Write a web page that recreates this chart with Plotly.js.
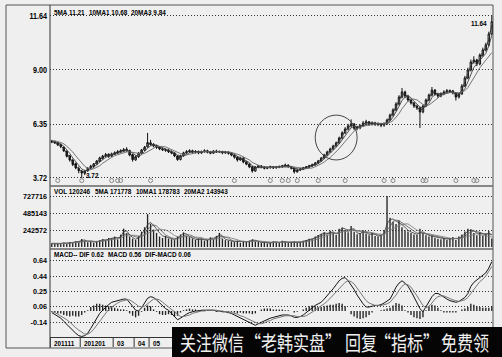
<!DOCTYPE html>
<html>
<head>
<meta charset="utf-8">
<script src="https://cdn.plot.ly/plotly-3.0.1.min.js"></script>
<style>
html, body { margin: 0; padding: 0; background: #efefef; }
#wrap { position: relative; width: 502px; height: 357px; overflow: hidden; }
#chart { width: 502px; height: 357px; }
#wm { position: absolute; left: 172px; top: 327px; width: 330px; height: 30px; background: #050505; }
#wm span { position: absolute; top: 7px; font-family: "Noto Sans CJK SC", sans-serif; font-size: 16px; line-height: 16px;
  color: #f0f0f0; white-space: nowrap; transform: scaleY(1.3); transform-origin: 50% 50%;
  font-feature-settings: "halt"; }
</style>
</head>
<body>
<div id="wrap"><div id="chart"></div><div id="wm"></div></div>
<script>
// ---- daily bars (one entry per bar) ----
const open = [5.52,5.50,5.44,5.35,5.22,5.02,4.80,4.58,4.42,4.18,
  4.05,3.95,4.08,4.22,4.28,4.40,4.54,4.68,4.80,4.88,
  4.78,4.88,4.94,5.00,5.04,5.12,5.06,4.86,4.60,4.76,
  4.94,5.08,5.24,5.44,5.36,5.28,5.22,5.14,5.10,5.08,
  5.00,4.94,4.80,4.62,4.80,4.95,5.00,5.05,4.98,5.01,
  4.94,5.00,5.05,4.98,4.93,5.04,4.99,5.01,4.94,4.99,
  4.93,4.84,4.74,4.60,4.70,4.50,4.40,4.27,4.06,4.26,
  4.31,4.25,4.20,4.22,4.27,4.21,4.26,4.27,4.31,4.35,
  4.27,4.20,4.02,4.11,4.16,4.22,4.26,4.31,4.36,4.45,
  4.55,4.69,4.84,4.99,5.13,5.28,5.43,5.67,5.92,6.11,
  6.26,6.36,6.15,6.17,6.27,6.40,6.46,6.34,6.41,6.34,
  6.36,6.30,6.36,6.55,6.79,7.04,7.33,7.67,7.92,7.72,
  7.53,7.38,7.23,7.14,6.94,7.23,7.53,7.77,8.01,7.82,
  7.72,7.82,7.92,7.97,7.97,7.87,7.67,7.82,8.21,8.60,
  8.99,9.38,9.48,9.28,9.72,9.97,10.21,10.75];
const high = [5.58,5.55,5.47,5.40,5.26,5.06,4.85,4.66,4.47,4.28,
  4.12,4.12,4.24,4.36,4.45,4.60,4.76,4.85,4.94,4.92,
  4.96,5.02,5.08,5.12,5.18,5.22,5.10,4.90,4.82,4.98,
  5.14,5.28,5.92,5.58,5.42,5.34,5.28,5.22,5.16,5.14,
  5.06,4.98,4.84,4.86,5.00,5.08,5.12,5.10,5.08,5.06,
  5.06,5.12,5.10,5.04,5.08,5.10,5.06,5.05,5.04,5.02,
  4.97,4.88,4.78,4.76,4.72,4.56,4.44,4.30,4.30,4.36,
  4.35,4.30,4.28,4.32,4.30,4.30,4.33,4.36,4.42,4.38,
  4.30,4.22,4.16,4.22,4.26,4.30,4.36,4.42,4.50,4.60,
  4.74,4.90,5.05,5.20,5.34,5.50,5.74,6.00,6.20,6.36,
  6.58,6.40,6.26,6.34,6.50,6.56,6.50,6.48,6.46,6.44,
  6.40,6.44,6.62,6.86,7.12,7.42,7.76,8.11,7.98,7.78,
  7.60,7.44,7.30,7.20,7.30,7.60,7.84,8.16,8.06,7.88,
  7.90,8.00,8.06,8.04,8.02,7.90,7.88,8.30,8.70,9.10,
  9.50,9.66,9.54,9.80,10.08,10.32,10.86,11.64];
const low = [5.42,5.38,5.28,5.18,5.00,4.72,4.52,4.30,4.15,3.95,
  3.72,3.86,4.02,4.16,4.22,4.35,4.50,4.62,4.72,4.70,
  4.74,4.84,4.90,4.94,4.98,5.00,4.78,4.52,4.56,4.70,
  4.90,5.04,5.20,5.30,5.22,5.14,5.08,5.04,5.00,4.94,
  4.88,4.74,4.56,4.58,4.76,4.90,4.94,4.92,4.92,4.88,
  4.90,4.96,4.92,4.88,4.90,4.94,4.94,4.88,4.90,4.86,
  4.78,4.66,4.52,4.56,4.44,4.34,4.20,3.98,4.02,4.20,
  4.20,4.14,4.15,4.18,4.16,4.18,4.20,4.22,4.26,4.22,
  4.14,3.94,3.98,4.06,4.12,4.18,4.22,4.26,4.32,4.40,
  4.50,4.64,4.80,4.94,5.08,5.22,5.38,5.60,5.86,6.04,
  6.18,6.06,6.05,6.10,6.22,6.32,6.26,6.28,6.26,6.25,
  6.20,6.22,6.32,6.50,6.72,6.98,7.26,7.60,7.62,7.44,
  7.30,7.14,7.04,6.16,6.88,7.18,7.46,7.70,7.74,7.62,
  7.66,7.76,7.86,7.88,7.80,7.50,7.60,7.78,8.16,8.54,
  8.92,9.30,9.18,9.22,9.64,9.90,10.14,10.68];
const close = [5.48,5.43,5.33,5.25,5.04,4.78,4.60,4.38,4.21,4.08,
  3.96,4.06,4.20,4.30,4.41,4.55,4.70,4.79,4.86,4.78,
  4.90,4.95,5.00,5.05,5.10,5.08,4.84,4.62,4.76,4.94,
  5.09,5.22,5.45,5.36,5.28,5.22,5.14,5.10,5.08,5.00,
  4.94,4.80,4.62,4.80,4.95,5.00,5.05,4.98,5.01,4.94,
  5.00,5.05,4.98,4.93,5.04,4.99,5.01,4.94,4.99,4.93,
  4.84,4.74,4.60,4.70,4.50,4.40,4.27,4.06,4.26,4.31,
  4.25,4.20,4.22,4.27,4.21,4.26,4.27,4.31,4.35,4.27,
  4.20,4.02,4.11,4.16,4.22,4.26,4.31,4.36,4.45,4.55,
  4.69,4.84,4.99,5.13,5.28,5.43,5.67,5.92,6.11,6.26,
  6.36,6.15,6.17,6.27,6.40,6.46,6.34,6.41,6.34,6.36,
  6.30,6.36,6.55,6.79,7.04,7.33,7.67,7.92,7.72,7.53,
  7.38,7.23,7.14,6.94,7.23,7.53,7.77,8.01,7.82,7.72,
  7.82,7.92,7.97,7.97,7.87,7.67,7.82,8.21,8.60,8.99,
  9.38,9.48,9.28,9.72,9.97,10.21,10.75,11.35];

// ---- price moving averages ----
const ma5 = [5.50,5.46,5.38,5.29,5.15,4.91,4.69,4.49,4.30,4.15,
  4.02,4.01,4.13,4.25,4.36,4.48,4.63,4.75,4.83,4.82,
  4.84,4.93,4.98,5.03,5.08,5.09,4.96,4.73,4.69,4.85,
  5.02,5.16,5.34,5.41,5.32,5.25,5.18,5.12,5.09,5.04,
  4.97,4.87,4.71,4.71,4.88,4.98,5.03,5.02,5.00,4.98,
  4.97,5.03,5.02,4.96,4.99,5.02,5.00,4.98,4.97,4.96,
  4.89,4.79,4.67,4.65,4.60,4.45,4.34,4.17,4.16,4.29,
  4.28,4.23,4.21,4.25,4.24,4.24,4.27,4.29,4.33,4.31,
  4.24,4.11,4.07,4.14,4.19,4.24,4.29,4.34,4.41,4.50,
  4.62,4.77,4.92,5.06,5.21,5.36,5.55,5.80,6.02,6.19,
  6.31,6.26,6.16,6.22,6.34,6.43,6.40,6.38,6.38,6.35,
  6.33,6.33,6.46,6.67,6.92,7.19,7.50,7.80,7.82,7.63,
  7.46,7.31,7.19,7.04,7.09,7.38,7.65,7.89,7.92,7.77,
  7.77,7.87,7.95,7.97,7.92,7.77,7.75,8.02,8.41,8.80,
  9.19,9.43,9.38,9.50,9.85,10.09,10.48,11.21];
const ma10 = [5.52,5.50,5.44,5.38,5.27,5.10,4.92,4.70,4.50,4.32,
  4.16,4.08,4.08,4.13,4.25,4.37,4.50,4.62,4.73,4.79,
  4.84,4.88,4.91,4.98,5.03,5.06,5.02,4.91,4.83,4.79,
  4.86,5.01,5.18,5.29,5.33,5.33,5.25,5.19,5.14,5.08,
  5.03,4.96,4.84,4.79,4.80,4.85,4.96,5.00,5.02,5.00,
  4.99,5.01,5.00,5.00,5.01,4.99,5.00,5.00,4.99,4.97,
  4.93,4.88,4.78,4.72,4.64,4.55,4.47,4.31,4.25,4.23,
  4.22,4.26,4.25,4.24,4.23,4.25,4.26,4.27,4.30,4.30,
  4.29,4.21,4.16,4.13,4.13,4.19,4.24,4.29,4.35,4.42,
  4.52,4.64,4.77,4.92,5.07,5.21,5.38,5.58,5.79,6.00,
  6.17,6.23,6.24,6.24,6.25,6.33,6.37,6.41,6.39,6.37,
  6.36,6.34,6.40,6.50,6.69,6.93,7.21,7.50,7.66,7.72,
  7.64,7.47,7.33,7.18,7.14,7.21,7.37,7.64,7.79,7.83,
  7.85,7.82,7.86,7.92,7.94,7.87,7.84,7.90,8.08,8.41,
  8.80,9.12,9.29,9.47,9.62,9.80,10.17,10.68];
const ma20 = [5.54,5.53,5.50,5.45,5.39,5.27,5.15,4.99,4.80,4.62,
  4.43,4.29,4.20,4.15,4.17,4.23,4.32,4.44,4.55,4.65,
  4.73,4.81,4.85,4.91,4.96,4.99,5.00,4.97,4.95,4.91,
  4.89,4.92,4.99,5.08,5.17,5.26,5.27,5.26,5.24,5.17,
  5.11,5.05,4.96,4.91,4.88,4.85,4.88,4.90,4.94,4.98,
  5.00,5.02,5.00,5.00,5.01,5.00,5.00,5.01,4.99,4.99,
  4.97,4.94,4.88,4.83,4.76,4.67,4.60,4.48,4.40,4.35,
  4.27,4.26,4.24,4.23,4.25,4.25,4.25,4.25,4.28,4.28,
  4.28,4.26,4.23,4.21,4.17,4.18,4.19,4.21,4.27,4.33,
  4.41,4.50,4.60,4.72,4.86,4.99,5.15,5.33,5.50,5.69,
  5.88,6.01,6.12,6.21,6.24,6.29,6.31,6.33,6.36,6.37,
  6.39,6.37,6.39,6.43,6.52,6.67,6.86,7.10,7.30,7.47,
  7.57,7.57,7.53,7.41,7.31,7.27,7.28,7.39,7.50,7.60,
  7.75,7.81,7.85,7.89,7.88,7.87,7.88,7.92,7.98,8.13,
  8.35,8.60,8.85,9.10,9.28,9.45,9.64,9.84];

// ---- volume and its averages ----
const volume = [52300,41800,46500,55200,61800,49600,71200,58700,80400,74300,
  112600,89400,68800,86200,61300,79500,96800,108900,91200,128700,
  121500,148300,109700,176400,262100,198600,151200,118400,101300,158900,
  219400,281600,468200,331700,248500,201300,148900,129600,158200,121400,
  109800,98700,151400,178900,208600,161200,139800,121700,99600,112300,
  118900,91200,101400,138700,109600,158300,201700,119400,98800,91200,
  79800,69700,88900,61200,79400,70800,91300,108700,79600,70400,
  61300,68800,51200,59700,81400,69300,61800,88700,71200,59400,
  70800,81200,59600,70900,89700,101300,118600,111200,148700,171300,
  188900,211400,179200,231600,198700,171400,258900,279600,241300,208700,
  301200,218600,181300,199800,238700,191200,168900,201400,158700,151300,
  168900,241200,727716,418700,361200,328900,378600,281300,238900,221400,
  198700,179600,171200,258900,201300,168700,151200,159800,131200,118900,
  109600,128700,101200,119800,141300,98700,151200,178600,221300,258700,
  248900,201300,168700,211200,158900,191300,228700,120246];
const volMa5 = [50000,45000,43000,50000,58000,55000,60000,65000,70000,78000,
  93000,100000,80000,78000,73000,70000,88000,103000,100000,110000,
  125000,135000,130000,145000,220000,230000,175000,135000,110000,130000,
  190000,230000,320000,350000,310000,250000,200000,160000,145000,140000,
  115000,105000,125000,165000,195000,185000,150000,130000,110000,105000,
  115000,105000,95000,120000,125000,135000,180000,160000,110000,95000,
  85000,75000,80000,75000,70000,75000,80000,100000,95000,75000,
  65000,65000,60000,55000,70000,75000,65000,75000,80000,65000,
  65000,75000,70000,65000,80000,95000,110000,115000,130000,160000,
  180000,200000,195000,205000,215000,185000,215000,270000,260000,225000,
  255000,260000,200000,190000,220000,215000,180000,185000,180000,155000,
  165000,190000,330000,390000,400000,370000,350000,320000,280000,240000,
  215000,195000,180000,205000,215000,190000,165000,155000,145000,130000,
  120000,120000,115000,115000,125000,120000,125000,150000,185000,225000,
  245000,230000,200000,190000,185000,180000,195000,171778];
const volMa10 = [50000,48000,47000,48000,51000,53000,59000,60000,65000,72000,
  82000,89000,87000,89000,77000,74000,81000,87000,94000,107000,
  113000,123000,128000,140000,175000,188000,175000,160000,143000,133000,
  150000,180000,255000,290000,315000,300000,255000,205000,173000,150000,
  130000,123000,120000,135000,160000,175000,173000,158000,130000,118000,
  113000,105000,105000,113000,110000,128000,153000,148000,145000,128000,
  98000,85000,80000,75000,75000,75000,75000,88000,88000,88000,
  80000,70000,63000,60000,65000,65000,68000,75000,73000,70000,
  73000,70000,68000,70000,75000,80000,95000,105000,120000,138000,
  155000,180000,188000,203000,205000,195000,200000,228000,238000,248000,
  243000,243000,228000,225000,210000,203000,200000,200000,180000,170000,
  170000,180000,245000,290000,365000,385000,375000,345000,315000,280000,
  248000,218000,198000,200000,198000,185000,175000,170000,155000,143000,
  133000,125000,118000,118000,120000,118000,120000,135000,155000,188000,
  215000,228000,223000,210000,193000,185000,190000,178783];
const volMa20 = [55000,53000,52000,49000,50000,50000,54000,56000,59000,66000,
  71000,77000,80000,86000,79000,81000,79000,81000,84000,97000,
  104000,106000,114000,124000,150000,164000,158000,168000,166000,154000,
  163000,170000,199000,212000,233000,240000,255000,248000,244000,225000,
  193000,164000,147000,143000,145000,149000,147000,147000,145000,147000,
  136000,118000,112000,109000,108000,116000,128000,129000,137000,141000,
  126000,117000,104000,88000,80000,78000,75000,82000,82000,82000,
  84000,79000,76000,70000,68000,64000,66000,70000,70000,69000,
  73000,72000,69000,72000,73000,75000,83000,90000,100000,117000,
  130000,150000,160000,179000,193000,192000,200000,217000,219000,224000,
  236000,238000,238000,234000,227000,215000,213000,205000,192000,185000,
  185000,175000,208000,235000,265000,285000,310000,318000,330000,330000,
  298000,268000,240000,224000,208000,192000,188000,184000,170000,163000,
  152000,140000,131000,126000,122000,118000,119000,127000,138000,154000,
  168000,182000,190000,175000,165000,155000,150000,143943];

// ---- MACD lines ----
const dif = [-0.02,-0.04,-0.07,-0.09,-0.13,-0.17,-0.21,-0.24,-0.28,-0.31,
  -0.32,-0.31,-0.28,-0.22,-0.16,-0.09,-0.03,0.01,0.05,0.08,
  0.11,0.12,0.13,0.14,0.15,0.15,0.11,0.06,0.01,0.00,
  0.04,0.10,0.16,0.18,0.17,0.14,0.10,0.06,0.03,0.01,
  -0.03,-0.08,-0.11,-0.09,-0.06,-0.04,-0.02,-0.01,0.00,0.00,
  0.01,0.01,0.01,0.01,0.01,0.00,0.00,-0.01,-0.01,-0.02,
  -0.03,-0.05,-0.07,-0.08,-0.10,-0.12,-0.14,-0.17,-0.18,-0.16,
  -0.14,-0.12,-0.10,-0.09,-0.08,-0.07,-0.06,-0.05,-0.05,-0.05,
  -0.06,-0.08,-0.08,-0.07,-0.05,-0.02,0.02,0.05,0.07,0.09,
  0.11,0.15,0.19,0.24,0.28,0.33,0.38,0.41,0.42,0.38,
  0.33,0.27,0.20,0.14,0.09,0.05,0.05,0.06,0.07,0.07,
  0.08,0.10,0.12,0.15,0.22,0.30,0.35,0.38,0.35,0.31,
  0.25,0.17,0.10,0.03,-0.01,0.05,0.12,0.18,0.22,0.22,
  0.20,0.17,0.15,0.13,0.12,0.11,0.12,0.15,0.17,0.22,
  0.31,0.36,0.39,0.42,0.44,0.48,0.54,0.62];
const dea = [-0.01,-0.02,-0.04,-0.06,-0.08,-0.11,-0.14,-0.18,-0.21,-0.24,
  -0.27,-0.29,-0.29,-0.27,-0.23,-0.18,-0.12,-0.07,-0.02,0.02,
  0.05,0.08,0.10,0.12,0.13,0.14,0.14,0.12,0.09,0.06,
  0.05,0.06,0.09,0.12,0.15,0.15,0.14,0.11,0.08,0.05,
  0.02,-0.01,-0.05,-0.07,-0.07,-0.06,-0.05,-0.03,-0.02,-0.01,
  0.00,0.00,0.01,0.01,0.01,0.01,0.00,0.00,-0.01,-0.01,
  -0.02,-0.03,-0.04,-0.06,-0.07,-0.09,-0.11,-0.13,-0.15,-0.16,
  -0.16,-0.15,-0.13,-0.12,-0.10,-0.09,-0.08,-0.07,-0.06,-0.06,
  -0.06,-0.06,-0.07,-0.07,-0.07,-0.06,-0.04,-0.02,0.01,0.04,
  0.06,0.09,0.12,0.16,0.20,0.24,0.28,0.32,0.36,0.38,
  0.37,0.34,0.29,0.24,0.18,0.13,0.10,0.08,0.07,0.07,
  0.07,0.08,0.09,0.11,0.15,0.20,0.26,0.31,0.34,0.33,
  0.30,0.25,0.19,0.13,0.07,0.04,0.06,0.10,0.15,0.18,
  0.19,0.19,0.17,0.15,0.14,0.13,0.12,0.13,0.14,0.17,
  0.22,0.28,0.33,0.37,0.40,0.44,0.50,0.56];

// ---- axis ticks, date marks, signals ----
const priceTicks = [3.72, 6.35, 9.00, 11.64];
const priceTickText = ['3.72', '6.35', '9.00', '11.64'];
const volumeTicks = [242572, 485143, 727716];
const macdTicks = [-0.14, 0.06, 0.25, 0.44, 0.64];
const monthStarts = [0, 10, 21, 28, 33];
const monthLabels = ['201111', '201201', '03', '04', '05'];
const signalBars = [2, 10, 20, 22, 23, 33, 61, 73, 77, 79, 82, 89, 98, 111, 114, 124, 125, 135, 141, 142];
const breakoutBar = 95;

// ---- derived series ----
const bars = close.map((_, i) => i);
const hist = dif.map((d, i) => +(d - dea[i]).toFixed(2));
const last = close.length - 1;
const lowVal = Math.min(...low), lowBar = low.indexOf(lowVal);
const highVal = Math.max(...high), highBar = high.indexOf(highVal);

// pixel helpers for frame decorations (plot area: x 50..493, y 8..337)
const PX = p => (p - 50) / 443;
const PY = p => (337 - p) / 329;

const FAM = '"Liberation Sans",Arial,sans-serif';
const TICK_SIZE = 7.2, HDR_SIZE = 6.4;
const LBL = { family: FAM, size: TICK_SIZE, color: '#000', weight: 'bold' };
const HDR = { family: FAM, size: HDR_SIZE, color: '#000', weight: 'bold' };

const yCommon = {
  showgrid: true, gridcolor: '#333', gridwidth: 1, griddash: '1px,2px',
  zeroline: false, showline: false, ticks: '', tickfont: LBL,
  ticklabelstandoff: 2, fixedrange: true, anchor: 'x'
};

const traces = [
  { type: 'candlestick', x: bars, open, high, low, close, xaxis: 'x', yaxis: 'y',
    increasing: { line: { color: '#111', width: 1 }, fillcolor: '#efefef' },
    decreasing: { line: { color: '#111', width: 1 }, fillcolor: '#111' },
    whiskerwidth: 0, hoverinfo: 'skip' },
  { type: 'scatter', mode: 'lines', x: bars, y: ma5, yaxis: 'y', line: { color: '#2a2a2a', width: 0.9 } },
  { type: 'scatter', mode: 'lines', x: bars, y: ma10, yaxis: 'y', line: { color: '#444', width: 0.9 } },
  { type: 'scatter', mode: 'lines', x: bars, y: ma20, yaxis: 'y', line: { color: '#666', width: 0.9 } },
  { type: 'scatter', mode: 'markers', x: signalBars, y: signalBars.map(() => 0.025), yaxis: 'y4',
    marker: { symbol: 'circle-open', size: 4, color: '#888', line: { width: 1 } } },

  { type: 'bar', x: bars, y: volume, yaxis: 'y2', width: 0.45, marker: { color: '#222', line: { width: 0 } } },
  { type: 'scatter', mode: 'lines', x: bars, y: volMa5, yaxis: 'y2', line: { color: '#333', width: 0.8 } },
  { type: 'scatter', mode: 'lines', x: bars, y: volMa10, yaxis: 'y2', line: { color: '#555', width: 0.8 } },
  { type: 'scatter', mode: 'lines', x: bars, y: volMa20, yaxis: 'y2', line: { color: '#777', width: 0.8 } },

  { type: 'bar', x: bars, y: hist, yaxis: 'y3', width: 0.45, marker: { color: '#222', line: { width: 0 } } },
  { type: 'scatter', mode: 'lines', x: bars, y: dif, yaxis: 'y3', line: { color: '#111', width: 1 } },
  { type: 'scatter', mode: 'lines', x: bars, y: dea, yaxis: 'y3', line: { color: '#777', width: 1 } }
];

const hdr = (text, px, py) => ({ xref: 'paper', yref: 'paper', x: PX(px), y: PY(py), xanchor: 'left',
  yanchor: 'middle', showarrow: false, text, font: HDR, borderpad: 0 });

const annotations = [
  hdr('5MA ' + ma5[last].toFixed(2), 53, 11),
  hdr('10MA1 ' + ma10[last].toFixed(2), 88, 11),
  hdr('20MA3 ' + ma20[last].toFixed(2), 130, 11),
  hdr('VOL ' + volume[last], 53, 190.5),
  hdr('5MA ' + volMa5[last], 94, 190.5),
  hdr('10MA1 ' + volMa10[last], 135, 190.5),
  hdr('20MA2 ' + volMa20[last], 183, 190.5),
  hdr('MACD-- DIF ' + dif[last].toFixed(2), 53, 254),
  hdr('MACD ' + dea[last].toFixed(2), 107, 254),
  hdr('DIF-MACD ' + hist[last].toFixed(2), 144, 254),
  { xref: 'x', yref: 'y', x: lowBar, y: lowVal, xanchor: 'left', yanchor: 'bottom', xshift: 3, yshift: -1,
    showarrow: false, text: lowVal.toFixed(2), font: HDR, borderpad: 0 },
  { xref: 'x', yref: 'y', x: highBar, y: highVal, xanchor: 'right', yanchor: 'top', xshift: -4, yshift: -2,
    showarrow: false, text: highVal.toFixed(2), font: HDR, borderpad: 0 }
];
monthStarts.forEach((b, k) => annotations.push({
  xref: 'x', yref: 'paper', x: b, y: PY(342.5), xanchor: 'left', yanchor: 'middle', xshift: 1,
  showarrow: false, text: monthLabels[k], font: HDR, borderpad: 0
}));

const shapes = [
  // outer frame and axis divider
  { type: 'rect', xref: 'paper', yref: 'paper', x0: PX(6), x1: PX(493), y0: PY(348), y1: PY(5),
    line: { color: '#555', width: 1 } },
  { type: 'line', xref: 'paper', yref: 'paper', x0: 0, x1: 0, y0: PY(348), y1: PY(5), line: { color: '#333', width: 1 } },
  // pane separators
  { type: 'line', xref: 'paper', yref: 'paper', x0: 0, x1: 1, y0: PY(186), y1: PY(186), line: { color: '#666', width: 1.5 } },
  { type: 'line', xref: 'paper', yref: 'paper', x0: 0, x1: 1, y0: PY(249), y1: PY(249), line: { color: '#666', width: 1.5 } },
  { type: 'line', xref: 'paper', yref: 'paper', x0: 0, x1: 1, y0: PY(337.5), y1: PY(337.5), line: { color: '#333', width: 1 } },
  // breakout highlight
  { type: 'circle', xref: 'x', yref: 'y', x0: breakoutBar - 7, x1: breakoutBar + 7, y0: 4.60, y1: 6.79,
    line: { color: '#333', width: 0.9 } }
];
monthStarts.forEach(b => shapes.push({ type: 'line', xref: 'x', yref: 'paper', x0: b - 0.5, x1: b - 0.5,
  y0: PY(347), y1: PY(338), line: { color: '#333', width: 1 } }));

const layout = {
  width: 502, height: 357,
  margin: { l: 50, r: 9, t: 8, b: 20, pad: 0 },
  paper_bgcolor: '#efefef', plot_bgcolor: '#efefef',
  showlegend: false, hovermode: false, barmode: 'overlay',
  xaxis: { domain: [0, 1], range: [-0.6, 147.4], anchor: 'y3', showgrid: false, zeroline: false,
    showline: false, showticklabels: false, ticks: '', fixedrange: true, rangeslider: { visible: false } },
  yaxis: Object.assign({}, yCommon, { domain: [PY(185), 1], range: [3.378, 12.016],
    tickvals: priceTicks, ticktext: priceTickText }),
  yaxis2: Object.assign({}, yCommon, { domain: [PY(248), PY(187)], range: [-14269, 856140],
    tickvals: volumeTicks, ticktext: volumeTicks.map(String) }),
  yaxis3: Object.assign({}, yCommon, { domain: [0, PY(250)], range: [-0.327, 0.767],
    tickvals: macdTicks, ticktext: macdTicks.map(v => v.toFixed(2)) }),
  yaxis4: { overlaying: 'y', range: [0, 1], visible: false, fixedrange: true },
  annotations, shapes
};

// give the small terminal-style captions their tall, narrow look: stretch vertically about the glyph centre
function stretchY(el, s, size) {
  const y = parseFloat(el.getAttribute('y')) || 0;
  const pivot = y - 0.36 * size;
  const t = el.getAttribute('transform') || '';
  el.setAttribute('transform', (t + ' translate(0 ' + pivot + ') scale(1 ' + s + ') translate(0 ' + (-pivot) + ')').trim());
}

Plotly.newPlot('chart', traces, layout, { staticPlot: true, displayModeBar: false }).then(gd => {
  gd.querySelectorAll('g.annotation text.annotation-text').forEach(el => stretchY(el, 1.25, HDR_SIZE));
  gd.querySelectorAll('.ytick text').forEach(el => stretchY(el, 1.15, TICK_SIZE));
});

// banner along the bottom edge; each phrase starts at its slot or just after the previous one
const banner = [['关注微信', 8], ['“老韩实盘”', 81], ['回复', 173], ['“指标”', 211], ['免费领', 269]];
const wm = document.getElementById('wm');
let prevRight = 0;
banner.forEach(([t, left]) => {
  const s = document.createElement('span');
  s.textContent = t;
  wm.appendChild(s);
  const x = Math.max(left, prevRight + 2);
  s.style.left = x + 'px';
  prevRight = x + s.getBoundingClientRect().width;
});
</script>
</body>
</html>
